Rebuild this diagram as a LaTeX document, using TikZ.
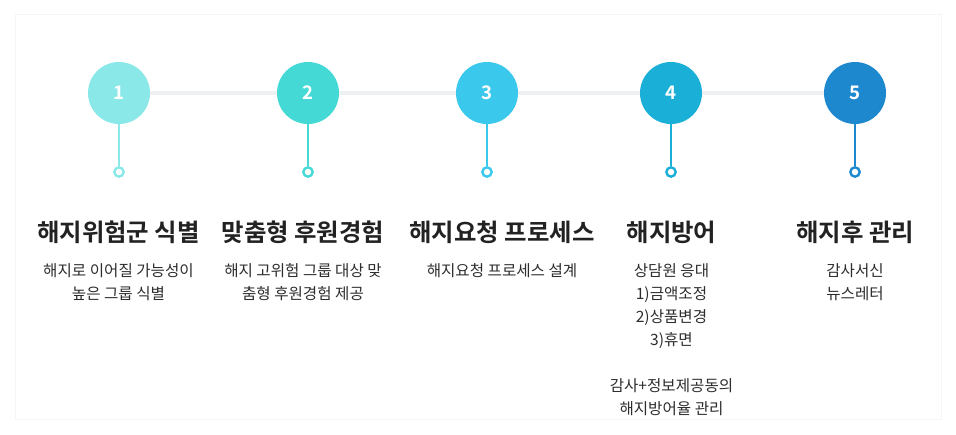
\documentclass[tikz,border=0pt]{standalone}
\usepackage{fontspec}
\setmainfont{Noto Sans CJK KR}[BoldFont={Noto Sans CJK KR Bold}]
\usetikzlibrary{positioning}
\definecolor{aqua}{HTML}{8BE8E8}
\definecolor{teal}{HTML}{45D9D6}
\definecolor{sky}{HTML}{3AC8EC}
\definecolor{cerulean}{HTML}{1AAFD6}
\definecolor{royal}{HTML}{1E88CF}
\definecolor{rail}{HTML}{EEF0F1}
\definecolor{frame}{HTML}{F5F6F7}
\definecolor{ink}{HTML}{222222}

\begin{document}
\begin{tikzpicture}[x=0.75pt,y=-0.75pt,
    stepdot/.style={circle,fill=#1,minimum size=46.5pt,inner sep=0pt,text=white,font=\bfseries\fontsize{14}{16}\selectfont},
    stem/.style={draw=#1,line width=1.7pt},
    pin/.style={circle,draw=#1,line width=1.8pt,fill=white,minimum size=7pt,inner sep=0pt},
    title/.style={font=\bfseries\fontsize{18.3}{22}\selectfont,text=ink,inner sep=0pt},
    desc/.style={font=\fontsize{11.7}{17.25}\selectfont,text=ink!95,align=center,anchor=north,inner sep=0pt}]
  \useasboundingbox (0,0) rectangle (956,435);
  \draw[frame,line width=0.75pt] (15,15) rectangle (941,419);

  % steps
  \foreach \i/\x/\c in {1/119/aqua,2/308/teal,3/487/sky,4/671/cerulean,5/855/royal}{
    \node[stepdot=\c] (c\i) at (\x,93) {\i};
    \node[pin=\c] (d\i) at (\x,172) {};
    \draw[stem=\c] (c\i) -- (d\i);
  }
  \draw[rail,line width=3pt] (c1) -- (c2) -- (c3) -- (c4) -- (c5);

  % titles
  \node[title] (t1) at (118.5,232) {해지위험군 식별};
  \node[title] (t2) at (303,232) {맞춤형 후원경험};
  \node[title] (t3) at (502,232) {해지요청 프로세스};
  \node[title] (t4) at (671.5,232) {해지방어};
  \node[title] (t5) at (855,232) {해지후 관리};

  % descriptions
  \node[desc] (s1) at (118.5,263) {해지로 이어질 가능성이\\높은 그룹 식별};
  \node[desc] (s2) at (303,263) {해지 고위험 그룹 대상 맞\\춤형 후원경험 제공};
  \node[desc] (s3) at (502,263) {해지요청 프로세스 설계};
  \node[desc] (s4) at (671.5,263) {상담원 응대\\1)금액조정\\2)상품변경\\3)휴면\\[17.25pt]감사+정보제공동의\\해지방어율 관리};
  \node[desc] (s5) at (855,263) {감사서신\\뉴스레터};
\end{tikzpicture}
\end{document}
